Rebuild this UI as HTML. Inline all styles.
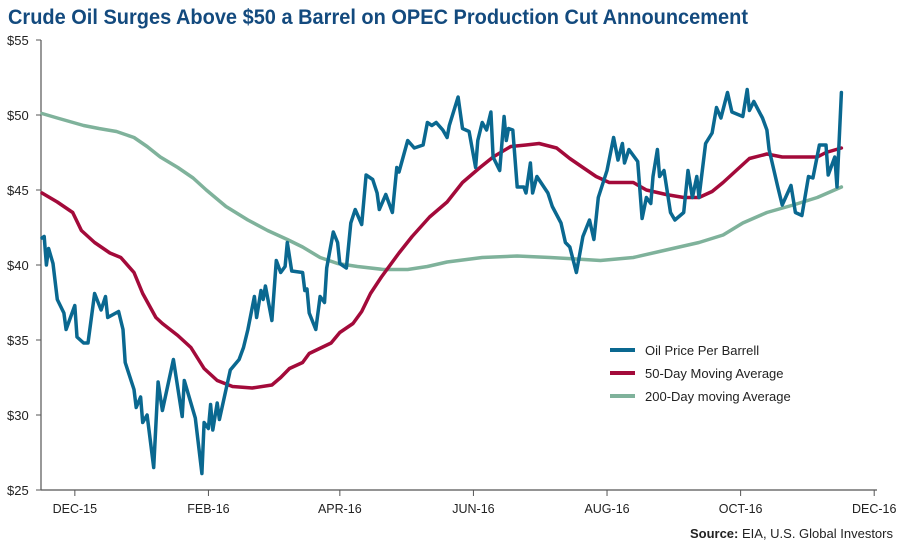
<!DOCTYPE html>
<html><head><meta charset="utf-8"><style>
body{margin:0;background:#fff;}
svg{display:block;font-family:"Liberation Sans",sans-serif;}
</style></head><body>
<svg id="chart" width="900" height="545" viewBox="0 0 900 545" xmlns="http://www.w3.org/2000/svg">
<text x="8" y="24" font-family="Liberation Sans Narrow, Liberation Sans, sans-serif" font-weight="bold" font-size="21" fill="#134a7e" textLength="740" lengthAdjust="spacingAndGlyphs">Crude Oil Surges Above $50 a Barrel on OPEC Production Cut Announcement</text>
<g id="axes"></g>
<g id="series"></g>
<g>
<line x1="610" y1="350" x2="635" y2="350" stroke="#0a6890" stroke-width="4"/>
<text x="645" y="355" font-size="13" fill="#222">Oil Price Per Barrell</text>
<line x1="610" y1="373" x2="635" y2="373" stroke="#a30a3a" stroke-width="4"/>
<text x="645" y="378" font-size="13" fill="#222">50-Day Moving Average</text>
<line x1="610" y1="396" x2="635" y2="396" stroke="#7fb29b" stroke-width="4"/>
<text x="645" y="401" font-size="13" fill="#222">200-Day moving Average</text>
</g>
<text x="893" y="538" text-anchor="end" font-size="13" fill="#222" font-family="Liberation Sans Narrow, Liberation Sans, sans-serif"><tspan font-weight="bold">Source:</tspan> EIA, U.S. Global Investors</text>
</svg>
<script>
const yTicks=[25,30,35,40,45,50,55];
const xTickLabels=["DEC-15","FEB-16","APR-16","JUN-16","AUG-16","OCT-16","DEC-16"];
const xTickDays=[15,76,136,197,258,319,380];
const oilDays=[0,1,2,3,5,7,10,11,15,16,19,21,24,27,29,30,35,37,38,42,43,45,46,48,51,53,55,60,64,65,70,73,74,76,77,78,80,81,86,90,92,94,97,98,100,101,102,105,107,109,111,112,114,119,120,121,122,125,127,129,130,133,135,136,139,141,143,146,148,151,153,154,157,160,162,163,167,170,174,176,178,180,183,185,186,190,192,195,198,199,201,203,205,206,209,211,212,213,215,217,220,221,223,224,226,231,233,237,239,241,244,247,250,252,254,258,261,263,265,266,268,272,274,276,278,279,281,282,284,287,289,293,295,297,299,300,303,306,308,310,313,315,320,322,323,325,329,331,332,336,338,342,344,347,350,352,355,358,359,362,363,365];
const oilPrice=[41.8,41.9,40,41.1,40.1,37.7,36.8,35.7,37.3,35.2,34.8,34.8,38.1,37,37.9,36.5,36.9,35.7,33.5,31.7,30.5,31.2,29.5,30,26.5,32.2,30.3,33.7,29.9,32.3,29.8,26.1,29.5,29.1,30.7,29,30.8,29.7,33,33.7,34.5,35.7,37.9,36.5,38.3,37.7,38.6,36.3,40.3,39.5,39.9,41.5,39.6,39.5,38.3,38.4,36.8,35.7,37.9,37.5,39.8,42.2,41.5,40.1,39.8,42.8,43.7,42.7,46,45.7,44.8,43.7,44.7,43.5,46.5,46.2,48.3,47.8,48,49.5,49.3,49.5,49,48.5,49.3,51.2,49.1,48.9,46.5,48.3,49.5,49,50.2,47.2,46.3,49.9,48.3,49.1,49,45.2,45.2,44.8,46.8,44.8,45.9,44.8,43.9,42.8,41.5,41.2,39.5,41.9,43,41.7,44.5,46.3,48.5,47,48.1,46.8,47.7,46.9,43.1,44.5,44.1,45.9,47.7,45.9,46.3,43.5,43,43.5,46.3,44.5,45.9,44.5,48.1,48.8,50.5,49.8,51.5,50.2,49.9,51.7,50.3,50.9,49.8,49,47.7,45.2,44,45.3,43.5,43.3,45.9,45.8,48,48,46,47.2,45.2,51.5];
const ma50Days=[0,7,14,18,24,31,36,42,46,52,55,62,68,74,80,87,96,105,109,113,119,122,132,136,142,146,150,155,163,169,177,185,192,200,206,214,221,227,235,241,247,253,259,270,276,285,293,300,306,311,317,323,331,338,346,354,358,365];
const ma50=[44.8,44.2,43.5,42.3,41.5,40.8,40.5,39.5,38.1,36.5,36.1,35.3,34.5,33.1,32.3,31.9,31.8,32,32.5,33.1,33.5,34.1,34.8,35.5,36.1,36.9,38.1,39.2,40.8,41.9,43.2,44.2,45.5,46.5,47.2,47.9,48,48.1,47.8,47.1,46.5,45.9,45.5,45.5,45,44.7,44.5,44.5,44.9,45.5,46.3,47.1,47.4,47.2,47.2,47.2,47.5,47.8];
const ma200Days=[0,7,19,26,34,42,48,54,62,69,75,84,94,103,112,119,127,135,144,156,167,176,185,201,217,232,244,255,270,285,300,311,320,331,343,354,365];
const ma200=[50.1,49.8,49.3,49.1,48.9,48.5,47.9,47.2,46.5,45.8,45,43.9,43,42.3,41.7,41.2,40.5,40.1,39.9,39.7,39.7,39.9,40.2,40.5,40.6,40.5,40.4,40.3,40.5,41,41.5,42,42.8,43.5,44,44.5,45.2];

const NS="http://www.w3.org/2000/svg";
const X0=42, XPD=2.19, Y0=490, YPD=15;
function xs(d){return X0+d*XPD;}
function ys(v){return Y0-(v-25)*YPD;}
function mk(tag,attrs,parent){const e=document.createElementNS(NS,tag);for(const k in attrs)e.setAttribute(k,attrs[k]);parent.appendChild(e);return e;}
const axes=document.getElementById('axes');
const yAxis=mk('line',{x1:41,y1:ys(55),x2:41,y2:Y0,stroke:'#555','stroke-width':1.2},axes);


const xAxis=mk('line',{x1:41,y1:Y0,x2:877,y2:Y0,stroke:'#555','stroke-width':1.2},axes);


yTicks.forEach(v=>{
  mk('line',{x1:36,y1:ys(v),x2:41,y2:ys(v),stroke:'#555','stroke-width':1},axes);
  const t=mk('text',{x:7,y:ys(v)+5,'font-size':13,fill:'#222'},axes);
  t.textContent='$'+v;
  
  
});
xTickDays.forEach((d,i)=>{
  mk('line',{x1:xs(d),y1:Y0,x2:xs(d),y2:Y0+6,stroke:'#555','stroke-width':1},axes);
  const t=mk('text',{x:xs(d),y:513,'font-size':12.5,fill:'#222','text-anchor':'middle','font-family':'Liberation Sans Narrow, Liberation Sans, sans-serif'},axes);
  t.textContent=xTickLabels[i];
  
  
});
const series=document.getElementById('series');
function line(days,vals,color,name){
  const d=days.map((dd,i)=>(i?'L':'M')+xs(dd).toFixed(1)+','+ys(vals[i]).toFixed(1)).join('');
  const p=mk('path',{d:d,fill:'none',stroke:color,'stroke-width':3.5,'stroke-linejoin':'round','stroke-linecap':'round'},series);
  
  
}
line(ma200Days,ma200,'#7fb29b','ma200-line');
line(ma50Days,ma50,'#a30a3a','ma50-line');
line(oilDays,oilPrice,'#0a6890','oil-price-line');
</script>
</body></html>
